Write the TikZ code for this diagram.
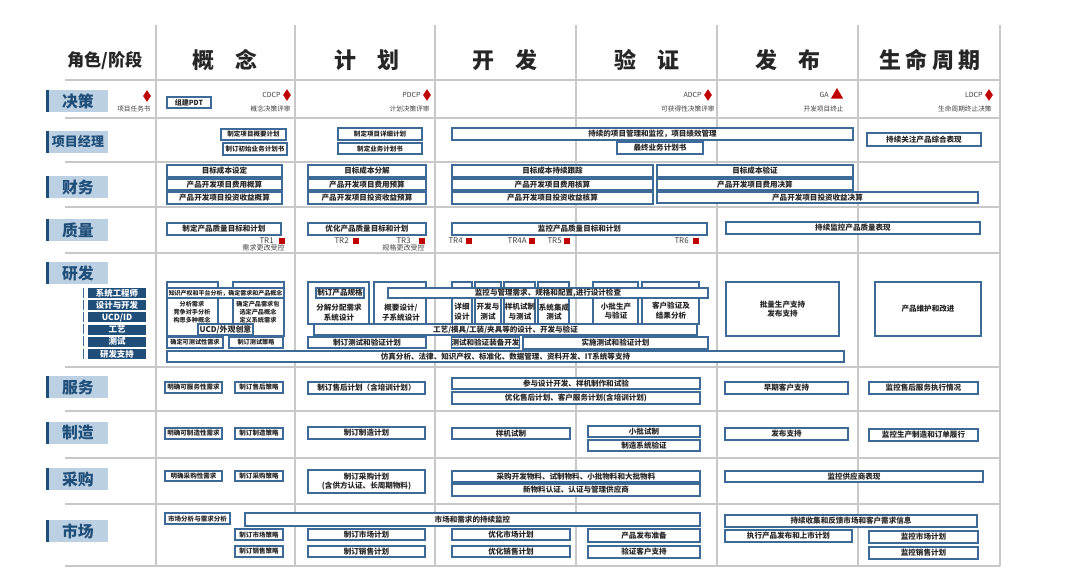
\documentclass[tikz,border=0pt]{standalone}
\usepackage{fontspec}
\setmainfont{Noto Sans CJK SC}
\usepackage{xcolor}
\usepackage{tikz}
\usetikzlibrary{positioning, shapes.geometric}
\definecolor{gridGray}{HTML}{C8C8C8}
\definecolor{boxBlue}{HTML}{3D6A96}
\definecolor{roleFill}{HTML}{BCD0E4}
\definecolor{roleInk}{HTML}{1F4E79}
\definecolor{msRed}{HTML}{C00000}
\definecolor{inkDark}{HTML}{262626}
\definecolor{inkGray}{HTML}{404040}
\tikzset{
  gridline/.style={draw=gridGray, line width=0.8pt},
  phasehead/.style={font=\fontsize{12.5}{14}\selectfont\bfseries, text=inkDark, inner sep=0pt},
  role/.style={fill=roleFill, text=roleInk, minimum width=1.2cm, minimum height=0.44cm,
    inner sep=0pt, font=\fontsize{9}{10}\selectfont\bfseries},
  rolebar/.style={draw=roleInk, line width=1.4pt},
  subrole/.style={fill=roleInk, text=white, minimum width=1.16cm, minimum height=0.2cm,
    inner sep=0pt, font=\fontsize{4.8}{5}\selectfont\bfseries},
  subbar/.style={draw=boxBlue, line width=0.7pt},
}
\tikzset{
  % box from its corners, in pixels of the grid
  span/.style n args={4}{minimum width={(#3-#1)*0.02cm}, minimum height={(#4-#2)*0.02cm},
    at={({(#1+#3)/2},{(#2+#4)/2})}},
  task/.style={draw=boxBlue, line width=0.9pt, fill=white, inner sep=0pt, text=inkDark,
    align=center, font=\fontsize{4.3}{5.4}\selectfont\bfseries},
  tasks/.style={task, font=\fontsize{3.7}{4.6}\selectfont\bfseries},
  frame/.style={draw=boxBlue, line width=0.9pt, inner sep=0pt},
  frametxt/.style={text=inkDark, align=center, inner sep=0pt, font=\fontsize{4.3}{5.6}\selectfont\bfseries},
  msdia/.style={diamond, fill=msRed, minimum width=0.16cm, minimum height=0.24cm, inner sep=0pt},
  mstri/.style={regular polygon, regular polygon sides=3, fill=msRed, minimum size=0.28cm, inner sep=0pt},
  mscode/.style={font=\fontsize{4}{5}\selectfont, text=inkGray, inner sep=0pt, anchor=east},
  mstxt/.style={font=\fontsize{3.8}{5}\selectfont, text=inkGray, inner sep=0pt, anchor=east},
  trsq/.style={fill=msRed, minimum size=0.12cm, inner sep=0pt},
  trtxt/.style={font=\fontsize{4.5}{5}\selectfont, text=inkGray, inner sep=0pt, anchor=east},
}

\begin{document}
\begin{tikzpicture}[x=0.02cm, y=-0.02cm]
  \useasboundingbox (0,0) rectangle (1080,575);
  % grid
  \foreach \gx in {156,295,435,576,717,858,1000}
    \draw[gridline] (\gx,25) -- (\gx,566);
  \foreach \gy in {80,118,162,207,253,367,411,458,504,566}
    \draw[gridline] (65,\gy) -- (1000,\gy);

  % phase headers
  \node[phasehead, font=\fontsize{9.8}{11}\selectfont\bfseries] (h0) at (105,61) {角色/阶段};
  \node[phasehead] (h1) at (225,60) {概\hspace{1em}念};
  \node[phasehead] (h2) at (367,60) {计\hspace{1em}划};
  \node[phasehead] (h3) at (505,60) {开\hspace{1em}发};
  \node[phasehead] (h4) at (647,60) {验\hspace{1em}证};
  \node[phasehead] (h5) at (788,60) {发\hspace{1em}布};
  \node[phasehead] (h6) at (930,60) {生\hspace{0.2em}命\hspace{0.2em}周\hspace{0.2em}期};

  % roles
  \node[role] (r1) at (78,101) {决策};
  \node[role, font=\fontsize{7.4}{8}\selectfont\bfseries] (r2) at (78,142) {项目经理};
  \node[role] (r3) at (78,187) {财务};
  \node[role] (r4) at (78,230) {质量};
  \node[role] (r5) at (78,273) {研发};
  \node[role] (r6) at (78,387) {服务};
  \node[role] (r7) at (78,433) {制造};
  \node[role] (r8) at (78,479) {采购};
  \node[role] (r9) at (78,531) {市场};
  \foreach \r in {r1,r2,r3,r4,r5,r6,r7,r8,r9}
    \draw[rolebar] (\r.north west) -- (\r.south west);
  \foreach \txt [count=\i] in {系统工程师,设计与开发,UCD/ID,工艺,测试,研发支持} {
    \node[subrole] (s\i) at (117,{293+12.2*(\i-1)}) {\txt};
    \draw[subbar] (s\i.north west) ++(-4,0) -- ++(0,10);
  }

  % decision milestones
  \node[msdia] (m0) at (147,96) {};
  \node[mstxt] (m0t) at (151,109) {项目任务书};
  \node[task, span={167}{97}{211}{108}, font=\fontsize{4}{5}\selectfont\bfseries] (pdt) {组建PDT};
  \node[msdia] (m1) at (287,95) {};
  \node[mscode] (m1c) at (281,95) {CDCP};
  \node[mstxt] (m1t) at (291,109) {概念决策评审};
  \node[msdia] (m2) at (427,95) {};
  \node[mscode] (m2c) at (421,95) {PDCP};
  \node[mstxt] (m2t) at (430,109) {计划决策评审};
  \node[msdia] (m3) at (708,95) {};
  \node[mscode] (m3c) at (702,95) {ADCP};
  \node[mstxt] (m3t) at (715,109) {可获得性决策评审};
  \node[mstri] (m4) at (837,95) {};
  \node[mscode] (m4c) at (829,95) {GA};
  \node[mstxt] (m4t) at (844,109) {开发项目终止};
  \node[msdia] (m5) at (989,95) {};
  \node[mscode] (m5c) at (983,95) {LDCP};
  \node[mstxt] (m5t) at (992,109) {生命周期终止决策};

  % project manager
  \node[tasks, span={221}{129}{286}{140}] (pm1) {制定项目概要计划};
  \node[tasks, span={223}{143}{287}{155}] (pm2) {制订初始业务计划书};
  \node[tasks, span={338}{128}{422}{140}] (pm3) {制定项目详细计划};
  \node[tasks, span={338}{143}{422}{154}] (pm4) {制定业务计划书};
  \node[task, span={452}{128}{853}{140}] (pm5) {持续的项目管理和监控，项目绩效管理};
  \node[task, span={617}{142}{703}{154}] (pm6) {最终业务计划书};
  \node[task, span={867}{133}{981}{146}] (pm7) {持续关注产品综合表现};

  % finance
  \node[task, span={167}{165}{282}{177}] (fn1) {目标成本设定};
  \node[task, span={167}{179}{282}{190}] (fn2) {产品开发项目费用概算};
  \node[task, span={167}{192}{282}{204}] (fn3) {产品开发项目投资收益概算};
  \node[task, span={308}{165}{426}{177}] (fn4) {目标成本分解};
  \node[task, span={308}{179}{426}{190}] (fn5) {产品开发项目费用预算};
  \node[task, span={308}{192}{426}{204}] (fn6) {产品开发项目投资收益预算};
  \node[task, span={452}{165}{653}{177}] (fn7) {目标成本持续跟踪};
  \node[task, span={452}{179}{653}{190}] (fn8) {产品开发项目费用核算};
  \node[task, span={452}{192}{653}{204}] (fn9) {产品开发项目投资收益核算};
  \node[task, span={657}{165}{853}{177}] (fn10) {目标成本验证};
  \node[task, span={657}{179}{853}{190}] (fn11) {产品开发项目费用决算};
  \node[task, span={657}{192}{978}{203}] (fn12) {产品开发项目投资收益决算};

  % quality
  \node[task, span={167}{223}{281}{235}] (qa1) {制定产品质量目标和计划};
  \node[task, span={308}{223}{426}{235}] (qa2) {优化产品质量目标和计划};
  \node[task, span={452}{223}{707}{235}] (qa3) {监控产品质量目标和计划};
  \node[task, span={726}{222}{980}{234}] (qa4) {持续监控产品质量表现};
  \node[trsq] (tr1) at (282,241) {};
  \node[trtxt] at (274,241) {TR1};
  \node[trsq] (tr2) at (356,241) {};
  \node[trtxt] at (349,241) {TR2};
  \node[trsq] (tr3) at (422,241) {};
  \node[trtxt] at (411,241) {TR3};
  \node[trsq] (tr4) at (469,241) {};
  \node[trtxt] at (463,241) {TR4};
  \node[trsq] (tr4a) at (532,241) {};
  \node[trtxt] at (527,241) {TR4A};
  \node[trsq] (tr5) at (567,241) {};
  \node[trtxt] at (562,241) {TR5};
  \node[trsq] (tr6) at (696,241) {};
  \node[trtxt] at (689,241) {TR6};
  \node[mstxt, font=\fontsize{4}{5}\selectfont] (tr1t) at (285,248) {需求更改受控};
  \node[mstxt, font=\fontsize{4}{5}\selectfont] (tr3t) at (425,248) {规格更改受控};

  % r&d frames
  \node[frame, span={167}{282}{218}{336}] (cf1) {};
  \node[frame, span={233}{282}{284}{336}] (cf2) {};
  \node[frame, span={308}{282}{369}{324}] (pf1) {};
  \node[frame, span={374}{282}{426}{324}] (pf2) {};
  \node[frame, span={452}{282}{472}{324}] (df1) {};
  \node[frame, span={475}{282}{501}{324}] (df2) {};
  \node[frame, span={504}{282}{535}{324}] (df3) {};
  \node[frame, span={538}{282}{569}{324}] (df4) {};
  \node[frame, span={593}{282}{638}{324}] (vf1) {};
  \node[frame, span={642}{282}{699}{324}] (vf2) {};
  \node[frametxt, font=\fontsize{3.5}{4.6}\selectfont\bfseries] at (192,312) {分析需求\\竞争对手分析\\构思多种概念};
  \node[frametxt, font=\fontsize{3.5}{4.6}\selectfont\bfseries] at (258,312) {确定产品需求包\\选定产品概念\\定义系统需求};
  \node[frametxt] at (339,313) {分解分配需求\\系统设计};
  \node[frametxt] at (401,313) {概要设计/\\子系统设计};
  \node[frametxt] at (462,312) {详细\\设计};
  \node[frametxt] at (488,312) {开发与\\测试};
  \node[frametxt] at (520,312) {样机试制\\与测试};
  \node[frametxt] at (554,312) {系统集成\\测试};
  \node[frametxt] at (616,311) {小批生产\\与验证};
  \node[frametxt] at (671,311) {客户验证及\\结果分析};

  % r&d tasks
  \node[task, span={167}{288}{284}{298}, font=\fontsize{3.4}{4}\selectfont\bfseries] (rd1) {知识产权和平台分析，确定需求和产品概念};
  \node[task, span={316}{288}{364}{298}, line width=1.2pt] (rd2) {制订产品规格};
  \node[task, span={388}{288}{708}{298}] (rd3) {监控与管理需求、规格和配置,进行设计检查};
  \node[task, span={198}{324}{253}{335}, font=\fontsize{4.5}{5.5}\selectfont\bfseries] (rd4) {UCD/外观创意};
  \node[task, span={314}{324}{697}{335}] (rd5) {工艺/模具/工装/夹具等的设计、开发与验证};
  \node[task, span={167}{337}{223}{348}, font=\fontsize{3.5}{4}\selectfont\bfseries] (rd6) {确定可测试性需求};
  \node[task, span={229}{337}{283}{348}, font=\fontsize{3.5}{4}\selectfont\bfseries] (rd7) {制订测试策略};
  \node[task, span={308}{337}{426}{348}] (rd8) {制订测试和验证计划};
  \node[task, span={452}{337}{519}{348}] (rd9) {测试和验证装备开发};
  \node[task, span={523}{337}{708}{349}] (rd10) {实施测试和验证计划};
  \node[task, span={167}{351}{844}{362}] (rd11) {仿真分析、法律、知识产权、标准化、数据管理、资料开发、IT系统等支持};
  \node[task, span={726}{282}{839}{336}] (rd12) {批量生产支持\\发布支持};
  \node[task, span={875}{282}{981}{336}] (rd13) {产品维护和改进};

  % service
  \node[tasks, span={165}{382}{222}{393}] (sv1) {明确可服务性需求};
  \node[tasks, span={235}{382}{283}{393}] (sv2) {制订售后策略};
  \node[task, span={308}{382}{425}{394}] (sv3) {制订售后计划（含培训计划）};
  \node[task, span={452}{378}{700}{389}] (sv4) {参与设计开发、样机制作和试验};
  \node[task, span={452}{392}{700}{404}] (sv5) {优化售后计划、客户服务计划(含培训计划)};
  \node[task, span={725}{382}{848}{394}] (sv6) {早期客户支持};
  \node[task, span={869}{382}{978}{394}] (sv7) {监控售后服务执行情况};

  % manufacturing
  \node[tasks, span={165}{428}{222}{439}] (mf1) {明确可制造性需求};
  \node[tasks, span={235}{428}{283}{439}] (mf2) {制订制造策略};
  \node[task, span={308}{427}{425}{439}] (mf3) {制订制造计划};
  \node[task, span={452}{428}{570}{439}] (mf4) {样机试制};
  \node[task, span={588}{426}{700}{437}] (mf5) {小批试制};
  \node[task, span={588}{440}{700}{451}] (mf6) {制造系统验证};
  \node[task, span={725}{428}{848}{440}] (mf7) {发布支持};
  \node[task, span={869}{429}{978}{441}] (mf8) {监控生产制造和订单履行};

  % purchasing
  \node[tasks, span={165}{471}{222}{481}] (pu1) {明确采购性需求};
  \node[tasks, span={235}{471}{283}{481}] (pu2) {制订采购策略};
  \node[task, span={308}{470}{425}{493}] (pu3) {制订采购计划\\(含供方认证、长周期物料)};
  \node[task, span={452}{471}{700}{482}] (pu4) {采购开发物料、试制物料、小批物料和大批物料};
  \node[task, span={452}{484}{700}{496}] (pu5) {新物料认证、认证与管理供应商};
  \node[task, span={725}{471}{983}{482}] (pu6) {监控供应商表现};

  % marketing
  \node[tasks, span={165}{513}{230}{524}] (mk1) {市场分析与需求分析};
  \node[task, span={245}{513}{700}{526}] (mk2) {市场和需求的持续监控};
  \node[tasks, span={235}{529}{283}{540}] (mk3) {制订市场策略};
  \node[tasks, span={235}{546}{283}{557}] (mk4) {制订销售策略};
  \node[task, span={308}{529}{425}{540}] (mk5) {制订市场计划};
  \node[task, span={308}{546}{425}{557}] (mk6) {制订销售计划};
  \node[task, span={452}{529}{570}{540}] (mk7) {优化市场计划};
  \node[task, span={452}{546}{570}{557}] (mk8) {优化销售计划};
  \node[task, span={588}{529}{700}{542}] (mk9) {产品发布准备};
  \node[task, span={588}{546}{700}{558}] (mk10) {验证客户支持};
  \node[task, span={725}{515}{977}{527}] (mk11) {持续收集和反馈市场和客户需求信息};
  \node[task, span={725}{530}{852}{542}] (mk12) {执行产品发布和上市计划};
  \node[task, span={869}{531}{978}{543}] (mk13) {监控市场计划};
  \node[task, span={869}{547}{978}{559}] (mk14) {监控销售计划};
\end{tikzpicture}
\end{document}
